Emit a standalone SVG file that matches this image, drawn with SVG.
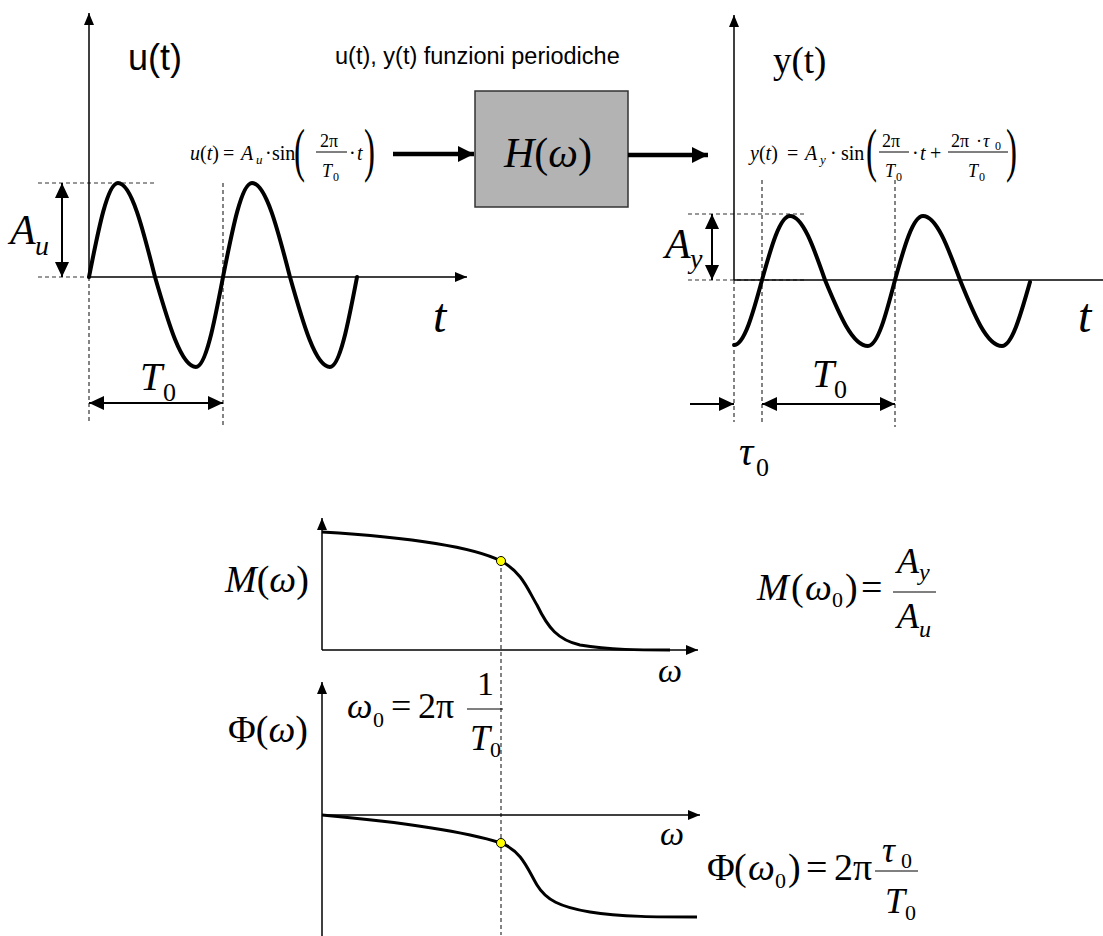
<svg xmlns="http://www.w3.org/2000/svg" width="1103" height="936" viewBox="0 0 1103 936">
<style>
.m{font-family:"Liberation Serif","Times New Roman","DejaVu Serif",serif;fill:#000}
.s{font-family:"Liberation Sans",Arial,sans-serif;fill:#000}
.i{font-style:italic}
.ax{stroke:#000;stroke-width:1.5;fill:none}
.dash{stroke:#333;stroke-width:1.2;stroke-dasharray:4,3;fill:none}
.dim{stroke:#000;stroke-width:2;fill:none}
.wave{stroke:#000;stroke-width:4;fill:none;stroke-linecap:round}
.crv{stroke:#000;stroke-width:3;fill:none}
.sig{stroke:#000;stroke-width:4.5;fill:none}
.dot{fill:#ffff00;stroke:#000;stroke-width:1}
.bar{stroke:#000;stroke-width:1;fill:none}
</style>
<defs>
<marker id="axh" markerUnits="userSpaceOnUse" markerWidth="12" markerHeight="10" refX="12" refY="5" orient="auto"><path d="M0,0 L12,5 L0,10 z" fill="#000"/></marker>
<marker id="dh" markerUnits="userSpaceOnUse" markerWidth="15" markerHeight="14" refX="15" refY="7" orient="auto-start-reverse"><path d="M0,0 L15,7 L0,14 z" fill="#000"/></marker>
<marker id="bh" markerUnits="userSpaceOnUse" markerWidth="16" markerHeight="16" refX="16" refY="8" orient="auto"><path d="M0,0 L16,8 L0,16 z" fill="#000"/></marker>
</defs>
<rect width="1103" height="936" fill="#fff"/>

<text class="s" x="335" y="64" font-size="23.5">u(t), y(t) funzioni periodiche</text>

<g id="input-plot">
<line class="dash" x1="38" y1="183" x2="155" y2="183"/>
<line class="dash" x1="38" y1="277" x2="89" y2="277"/>
<line class="dash" x1="89" y1="277" x2="89" y2="421"/>
<line class="dash" x1="223" y1="183" x2="223" y2="427"/>
<line class="ax" x1="89" y1="277" x2="89" y2="13" marker-end="url(#axh)"/>
<line class="ax" x1="89" y1="277" x2="467" y2="277" marker-end="url(#axh)"/>
<path class="wave" d="M89,277 C98.5,228.9 107.5,183 118,183 C131.4,183 142.9,228.9 155,277 C168.4,323.1 181.2,367 196,367 C205.8,367 214.2,323.1 223,277 C232.5,228.9 241.5,183 252,183 C265.8,183 277.6,228.9 290,277 C303,323.1 315.5,367 330,367 C339.8,367 348.2,323.1 357,277"/>
<line class="dim" x1="62" y1="183" x2="62" y2="277" marker-start="url(#dh)" marker-end="url(#dh)"/>
<line class="dim" x1="89" y1="403" x2="223" y2="403" marker-start="url(#dh)" marker-end="url(#dh)"/>
<text class="s" x="128" y="70" font-size="36">u(t)</text>
<text class="m i" x="10" y="244" font-size="42">A</text>
<text class="m i" x="35" y="255" font-size="28">u</text>
<text class="m i" x="140" y="390" font-size="40">T</text>
<text class="m" x="163" y="401" font-size="26">0</text>
<text class="m i" x="433" y="332" font-size="48">t</text>
<g id="u-formula">
<text class="m" y="160" font-size="20"><tspan x="190" class="i">u</tspan><tspan>(</tspan><tspan class="i">t</tspan><tspan>)</tspan><tspan x="223">=</tspan><tspan x="241" class="i">A</tspan></text>
<text class="m i" x="256" y="164" font-size="13">u</text>
<text class="m" y="160" font-size="20"><tspan x="265">·</tspan><tspan x="272">sin</tspan></text>
<text class="m" transform="translate(294,170) scale(0.55,1)" font-size="60">(</text>
<text class="m" x="320" y="147" font-size="18">2π</text>
<line class="bar" x1="316" y1="152" x2="347" y2="152"/>
<text class="m i" x="322" y="177" font-size="18">T</text>
<text class="m" x="333" y="181" font-size="12">0</text>
<text class="m" y="160" font-size="20"><tspan x="349">·</tspan><tspan x="357" class="i">t</tspan></text>
<text class="m" transform="translate(364,170) scale(0.55,1)" font-size="60">)</text>
</g>
</g>

<g id="system-H">
<rect x="475" y="91" width="153" height="116" fill="#b3b3b3" stroke="#333" stroke-width="1.5"/>
<text class="m" x="548" y="167" font-size="42" text-anchor="middle"><tspan class="i">H</tspan>(<tspan class="i">ω</tspan>)</text>
</g>

<g id="connectors">
<line class="sig" x1="393" y1="154" x2="474" y2="154" marker-end="url(#bh)"/>
<line class="sig" x1="628" y1="155" x2="708" y2="155" marker-end="url(#bh)"/>
</g>

<g id="output-plot">
<line class="dash" x1="688" y1="214" x2="805" y2="214"/>
<line class="dash" x1="688" y1="280" x2="805" y2="280"/>
<line class="dash" x1="734" y1="280" x2="734" y2="422"/>
<line class="dash" x1="762" y1="180" x2="762" y2="422"/>
<line class="dash" x1="895" y1="180" x2="895" y2="427"/>
<line class="ax" x1="734" y1="280" x2="734" y2="15" marker-end="url(#axh)"/>
<line class="ax" x1="734" y1="280" x2="1103" y2="280"/>
<path class="wave" d="M734,345 C744.1,345 752.9,313.8 762,280 C771.1,247.2 779.9,216 790,216 C802.7,216 813.6,247.2 825,280 C839,313.8 852.4,346 868,346 C877.8,346 886.2,313.8 895,280 C904.1,247.2 912.9,216 923,216 C936.4,216 947.9,247.2 960,280 C973.7,313.8 986.8,346 1002,346 C1012.1,346 1020.9,313.8 1030,282"/>
<line class="dim" x1="712" y1="214" x2="712" y2="280" marker-start="url(#dh)" marker-end="url(#dh)"/>
<line class="dim" x1="762" y1="404" x2="895" y2="404" marker-start="url(#dh)" marker-end="url(#dh)"/>
<line class="dim" x1="690" y1="404" x2="734" y2="404" marker-end="url(#dh)"/>
<text class="m" x="773" y="73" font-size="37">y(t)</text>
<text class="m i" x="665" y="258" font-size="42">A</text>
<text class="m i" x="690" y="268" font-size="28">y</text>
<text class="m i" x="812" y="387" font-size="40">T</text>
<text class="m" x="834" y="398" font-size="26">0</text>
<text class="m i" x="739" y="465" font-size="40">τ</text>
<text class="m" x="756" y="476" font-size="26">0</text>
<text class="m i" x="1078" y="332" font-size="48">t</text>
<g id="y-formula">
<text class="m" y="160" font-size="20"><tspan x="750" class="i">y</tspan><tspan>(</tspan><tspan class="i">t</tspan><tspan>)</tspan><tspan x="787">=</tspan><tspan x="805" class="i">A</tspan></text>
<text class="m i" x="820" y="164" font-size="13">y</text>
<text class="m" y="160" font-size="20"><tspan x="830">·</tspan><tspan x="841">sin</tspan></text>
<text class="m" transform="translate(866,170) scale(0.55,1)" font-size="60">(</text>
<text class="m" x="882" y="147" font-size="18">2π</text>
<line class="bar" x1="879" y1="152" x2="909" y2="152"/>
<text class="m i" x="885" y="177" font-size="18">T</text>
<text class="m" x="896" y="181" font-size="12">0</text>
<text class="m" y="160" font-size="20"><tspan x="912">·</tspan><tspan x="920" class="i">t</tspan><tspan x="930">+</tspan></text>
<text class="m" y="147" font-size="18"><tspan x="951">2π</tspan><tspan x="976">·</tspan><tspan x="983" class="i">τ</tspan></text>
<text class="m" x="995" y="150" font-size="12">0</text>
<line class="bar" x1="948" y1="152" x2="1008" y2="152"/>
<text class="m i" x="968" y="177" font-size="18">T</text>
<text class="m" x="979" y="181" font-size="12">0</text>
<text class="m" transform="translate(1006,170) scale(0.55,1)" font-size="60">)</text>
</g>
</g>

<g id="magnitude-plot">
<line class="dash" x1="501" y1="561" x2="501" y2="935"/>
<line class="ax" x1="322" y1="650" x2="322" y2="518" marker-end="url(#axh)"/>
<line class="ax" x1="322" y1="650" x2="698" y2="650" marker-end="url(#axh)"/>
<path class="crv" d="M322,532 C420,538 475,548 501,561 C522,572 528,590 537,605 C548,628 558,640 580,645 C610,650 640,650 670,650"/>
<circle class="dot" cx="501" cy="561" r="4.5"/>
<text class="m" x="225" y="592" font-size="38"><tspan class="i">M</tspan>(<tspan class="i">ω</tspan>)</text>
<text class="m i" x="658" y="682" font-size="34">ω</text>
<g id="M-formula">
<text class="m" y="600" font-size="38"><tspan x="757" class="i">M</tspan><tspan x="791">(</tspan><tspan x="805" class="i">ω</tspan></text>
<text class="m" x="832" y="607" font-size="22">0</text>
<text class="m" y="600" font-size="38"><tspan x="845">)</tspan><tspan x="861">=</tspan></text>
<text class="m i" x="897" y="573" font-size="36">A</text>
<text class="m i" x="919" y="580" font-size="24">y</text>
<line class="bar" x1="893" y1="592" x2="936" y2="592"/>
<text class="m i" x="897" y="628" font-size="36">A</text>
<text class="m i" x="919" y="637" font-size="24">u</text>
</g>
</g>

<g id="omega0-formula">
<text class="m i" x="347" y="718" font-size="36">ω</text>
<text class="m" x="373" y="727" font-size="22">0</text>
<text class="m" y="718" font-size="36"><tspan x="391">=</tspan><tspan x="418">2π</tspan></text>
<text class="m" x="477" y="695" font-size="34">1</text>
<line class="bar" x1="467" y1="709" x2="503" y2="709"/>
<text class="m i" x="470" y="750" font-size="36">T</text>
<text class="m" x="490" y="757" font-size="22">0</text>
</g>

<g id="phase-plot">
<line class="ax" x1="322" y1="936" x2="322" y2="682" marker-end="url(#axh)"/>
<line class="ax" x1="322" y1="815" x2="700" y2="815" marker-end="url(#axh)"/>
<path class="crv" d="M322,815 C400,822 460,830 501,843 C522,851 528,870 537,885 C546,900 560,907 590,912 C620,917 660,917 697,917"/>
<circle class="dot" cx="501" cy="843" r="4.5"/>
<text class="m" x="228" y="742" font-size="38">Φ(<tspan class="i">ω</tspan>)</text>
<text class="m i" x="660" y="845" font-size="34">ω</text>
<g id="Phi-formula">
<text class="m" y="880" font-size="38"><tspan x="707">Φ</tspan><tspan x="734">(</tspan><tspan x="748" class="i">ω</tspan></text>
<text class="m" x="775" y="888" font-size="22">0</text>
<text class="m" y="880" font-size="38"><tspan x="788">)</tspan><tspan x="806">=</tspan><tspan x="834">2π</tspan></text>
<text class="m i" x="882" y="862" font-size="36">τ</text>
<text class="m" x="901" y="868" font-size="22">0</text>
<line class="bar" x1="875" y1="871" x2="918" y2="871"/>
<text class="m i" x="885" y="913" font-size="36">T</text>
<text class="m" x="905" y="920" font-size="22">0</text>
</g>
</g>
</svg>
